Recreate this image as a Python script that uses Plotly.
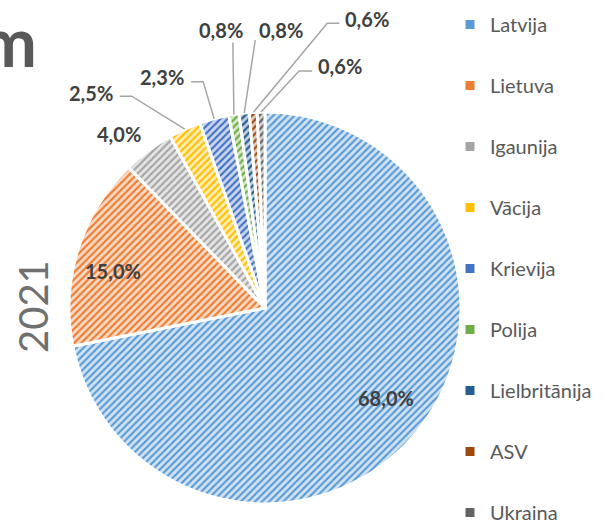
import math
import plotly.graph_objects as go

# ---- data ----
countries = ["Latvija", "Lietuva", "Igaunija", "Vācija", "Krievija",
             "Polija", "Lielbritānija", "ASV", "Ukraina"]
values = [68.0, 15.0, 4.0, 2.5, 2.3, 0.8, 0.8, 0.6, 0.6]
year_label = "2021"

# ---- style ----
colors = ["#5B9BD5", "#ED7D31", "#A5A5A5", "#FFC000", "#4472C4",
          "#70AD47", "#255E91", "#9E480E", "#636363"]
FONT = "Lato"
W, H = 608, 529
CX, CY, R = 265, 308, 196


def tint(hexc, f=0.72):
    r, g, b = int(hexc[1:3], 16), int(hexc[3:5], 16), int(hexc[5:7], 16)
    return "rgb(%d,%d,%d)" % (r + (255 - r) * f, g + (255 - g) * f, b + (255 - b) * f)


def px(x):
    return x / W


def py(y):
    return 1 - y / H


labels_txt = [("%.1f" % v).replace(".", ",") + "%" for v in values]

fig = go.Figure()
fig.add_trace(go.Pie(
    labels=countries, values=values, sort=False, direction="clockwise",
    rotation=0, textinfo="none", showlegend=False, hoverinfo="label+percent",
    domain=dict(x=[px(CX - R), px(CX + R)], y=[py(CY + R), py(CY - R)]),
    marker=dict(colors=[tint(c) for c in colors],
                line=dict(color="white", width=3),
                pattern=dict(shape="/", fgcolor=colors,
                             bgcolor=[tint(c) for c in colors],
                             size=5, solidity=0.42, fillmode="replace")),
))

# legend via dummy traces
for name, c in zip(countries, colors):
    fig.add_trace(go.Scatter(x=[None], y=[None], mode="markers", name=name,
                             legendgroup=name,
                             marker=dict(symbol="square", size=9, color=c)))

# slice angles (clockwise from 12 o'clock)
total = sum(values)
mids = []
acc = 0
for v in values:
    a = v / total * 360
    mids.append(acc + a / 2)
    acc += a


def edge(i, rf=1.0):
    a = math.radians(mids[i])
    return CX + R * rf * math.sin(a), CY - R * rf * math.cos(a)


# label layout: offset from slice edge point, and leader attach/elbow (relative to label centre)
inside_layout = {0: (3, -7), 1: (-6, 9)}
label_layout = {
    2: dict(off=(-29, -17), line=None),
    3: dict(off=(-94, -36), line=[(29, 3), (41, 3)]),
    4: dict(off=(-52, -42), line=[(29, 5), (41, 5)]),
    5: dict(off=(-13, -84), line=[(12, 12)]),
    6: dict(off=(37, -83), line=[(-26, 10)]),
    7: dict(off=(114, -93), line=[(-28, 4), (-40, 4)]),
    8: dict(off=(79, -46), line=[(-28, 5), (-41, 5)]),
}

annotations = []
shapes = []
lab_font = dict(family=FONT, size=20, color="#404040", weight="bold")
for i, t in enumerate(labels_txt):
    if i in inside_layout:
        x, y = edge(i, 0.78)
        x, y = x + inside_layout[i][0], y + inside_layout[i][1]
    else:
        ex, ey = edge(i)
        lay = label_layout[i]
        x, y = ex + lay["off"][0], ey + lay["off"][1]
        if lay["line"]:
            pts = [(x + dx, y + dy) for dx, dy in lay["line"]] + [(ex, ey)]
            path = "M " + " L ".join("%.4f,%.4f" % (px(a), py(b)) for a, b in pts)
            shapes.append(dict(type="path", path=path, xref="paper", yref="paper",
                               line=dict(color="#A6A6A6", width=1.5)))
    annotations.append(dict(text=t, x=px(x), y=py(y), xref="paper", yref="paper",
                            showarrow=False, xanchor="center", yanchor="middle",
                            font=lab_font))

# other texts
annotations.append(dict(text=year_label, x=px(33), y=py(307), xref="paper", yref="paper",
                        showarrow=False, textangle=-90, xanchor="center", yanchor="middle",
                        font=dict(family=FONT, size=40, color="#707070")))
annotations.append(dict(text="m", x=px(39), y=py(41), xref="paper", yref="paper",
                        showarrow=False, xanchor="right", yanchor="middle",
                        font=dict(family=FONT, size=68, color="#595959", weight="bold")))
annotations.append(dict(text="Latvija", x=px(52), y=py(521), xref="paper", yref="paper",
                        showarrow=False, xanchor="left", yanchor="top",
                        font=dict(family=FONT, size=20, color="#595959")))

fig.update_layout(
    width=W, height=H, autosize=False,
    margin=dict(l=0, r=0, t=0, b=0, autoexpand=False),
    paper_bgcolor="white", plot_bgcolor="white",
    xaxis=dict(visible=False), yaxis=dict(visible=False),
    legend=dict(x=px(450), y=py(5), xanchor="left", yanchor="top",
                font=dict(family=FONT, size=20, color="#595959"),
                tracegroupgap=32, bgcolor="rgba(0,0,0,0)"),
    annotations=annotations, shapes=shapes,
)

fig.write_html("out.html", config={"displayModeBar": False},
               post_script="document.body.style.margin='0';")
